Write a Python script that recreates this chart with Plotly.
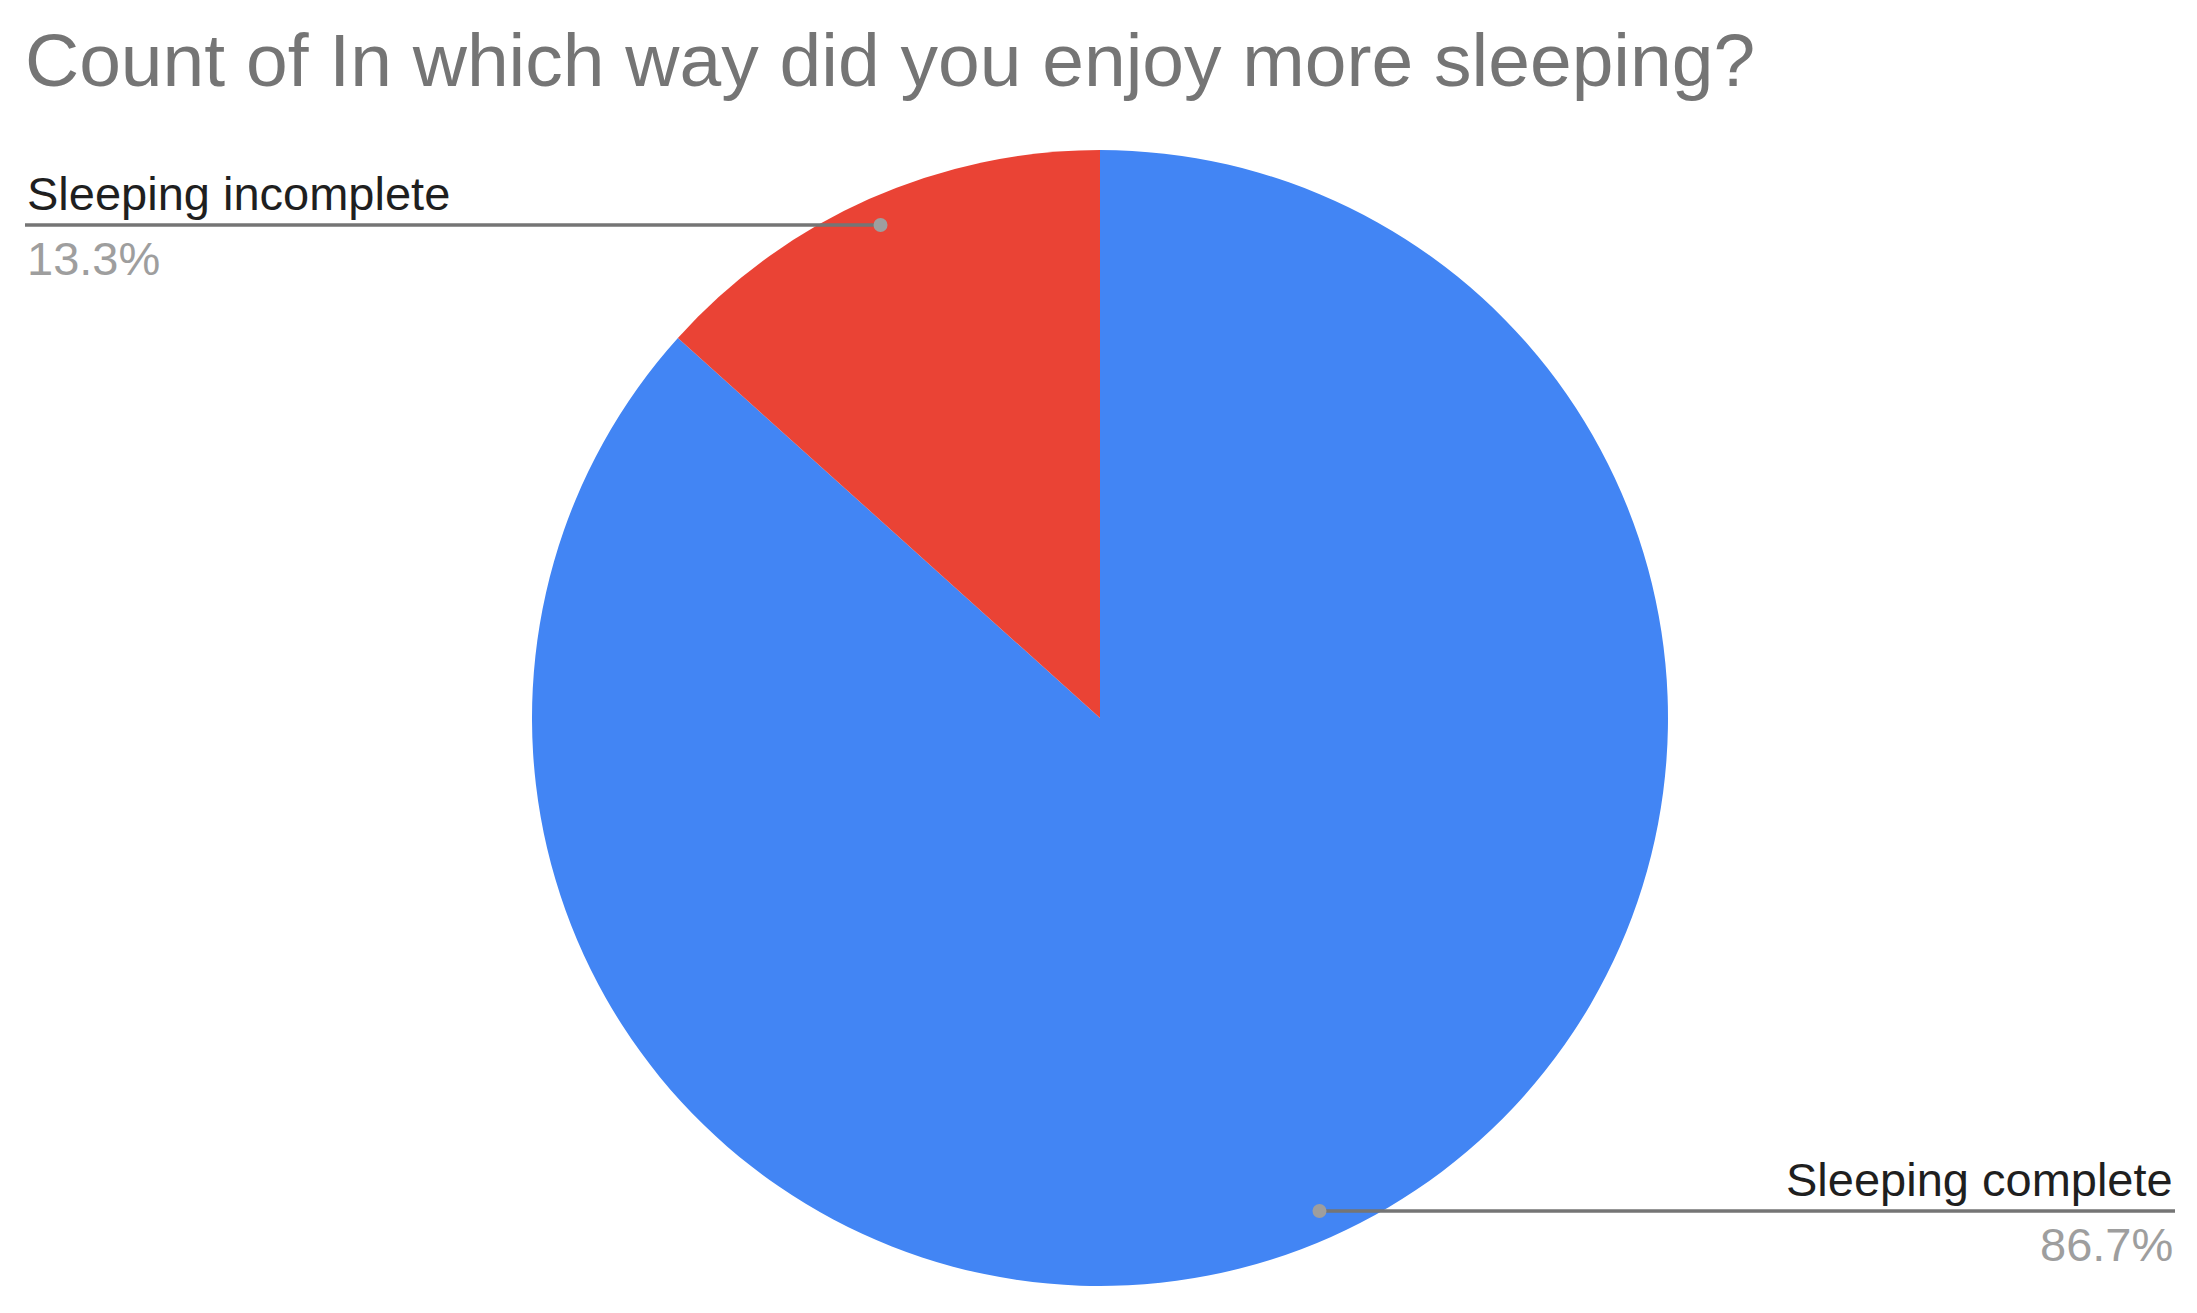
import plotly.graph_objects as go
import numpy as np

# Данные
labels = ["Sleeping complete", "Sleeping incomplete"]
counts = [13, 2]
colors = ["#4285F4", "#EA4335"]
title = "Count of In which way did you enjoy more sleeping?"

# Геометрия (пиксели)
W, H = 2197, 1313
cx, cy, R = 1100, 718, 568
line_left, line_right = 25, 2175

fig = go.Figure()

fig.add_trace(go.Pie(
    labels=labels, values=counts, sort=False, direction="clockwise", rotation=0,
    marker=dict(colors=colors, line=dict(width=0)),
    textinfo="none", hoverinfo="label+value+percent", showlegend=False,
    domain=dict(x=[(cx - R) / W, (cx + R) / W], y=[1 - (cy + R) / H, 1 - (cy - R) / H]),
))

# Выноски: точка на 0.95 радиуса в середине сектора
total = sum(counts)
cum = 0
for lab, v in zip(labels, counts):
    frac = v / total
    mid = (cum + frac / 2) * 2 * np.pi
    cum += frac
    dx = cx + 0.95 * R * np.sin(mid)
    dy = cy - 0.95 * R * np.cos(mid)
    right = dx > cx
    x_end = line_right if right else line_left
    fig.add_shape(type="line", x0=dx, x1=x_end, y0=dy, y1=dy, xref="x", yref="y",
                  line=dict(color="#757575", width=3.5), layer="above")
    fig.add_shape(type="circle", x0=dx - 7, x1=dx + 7, y0=dy - 7, y1=dy + 7,
                  xref="x", yref="y", fillcolor="#9E9E9E", line=dict(width=0), layer="above")
    anchor = "right" if right else "left"
    fig.add_annotation(x=x_end, y=dy - 3, xref="x", yref="y", text=lab, showarrow=False,
                       xanchor=anchor, yanchor="bottom",
                       font=dict(family="Liberation Sans", size=47, color="#1F1F1F"))
    fig.add_annotation(x=x_end, y=dy + 5, xref="x", yref="y", text=f"{frac * 100:.1f}%",
                       showarrow=False, xanchor=anchor, yanchor="top",
                       font=dict(family="Liberation Sans", size=47, color="#9E9E9E"))

fig.update_layout(
    width=W, height=H,
    margin=dict(l=0, r=0, t=0, b=0),
    paper_bgcolor="white", plot_bgcolor="white",
    title=dict(text=title, x=25 / W, xanchor="left", y=1 - 60 / H, yanchor="middle",
               font=dict(family="Liberation Sans", size=75, color="#757575")),
    xaxis=dict(range=[0, W], visible=False, domain=[0, 1], fixedrange=True),
    yaxis=dict(range=[H, 0], visible=False, domain=[0, 1], fixedrange=True),
)

fig.write_html("out.html", config={"displayModeBar": False},
               post_script="document.body.style.margin='0';")
